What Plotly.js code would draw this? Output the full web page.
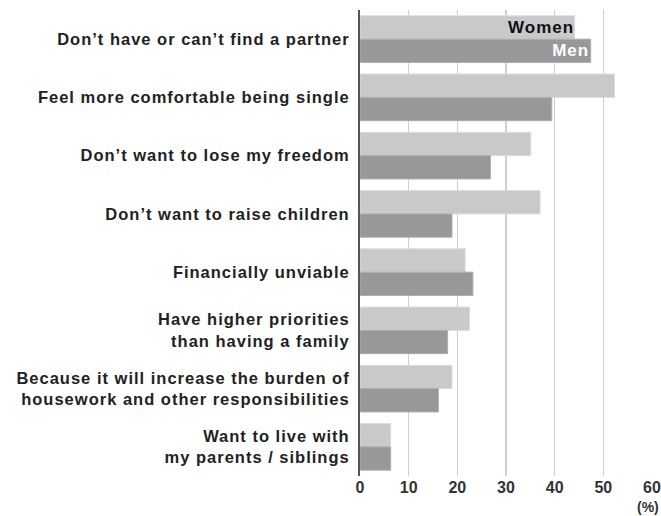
<!DOCTYPE html>
<html>
<head>
<meta charset="utf-8">
<script src="https://cdn.plot.ly/plotly-3.0.1.min.js"></script>
<style>
html,body{margin:0;padding:0;background:#fff;}
#chart{width:661px;height:516px;}
#chart .ytick text{letter-spacing:1px;}
#chart .bartext{letter-spacing:1px;}
</style>
</head>
<body>
<div id="chart"></div>
<script>
const categories = [
  "Don’t have or can’t find a partner",
  "Feel more comfortable being single",
  "Don’t want to lose my freedom",
  "Don’t want to raise children",
  "Financially unviable",
  "Have higher priorities<br>than having a family",
  "Because it will increase the burden of<br>housework and other responsibilities",
  "Want to live with<br>my parents / siblings"
];
const women = [44.1, 52.3, 35.1, 37.0, 21.6, 22.5, 18.9, 6.3];
const men   = [47.4, 39.4, 26.8, 18.9, 23.2, 18.0, 16.1, 6.3];
const womenText = ["Women", "", "", "", "", "", "", ""];
const menText   = ["Men", "", "", "", "", "", "", ""];
const xTicks = [0, 10, 20, 30, 40, 50, 60];
const catIds = categories.map((c, i) => i);

const FAM = "Liberation Sans, Arial, Helvetica, sans-serif";
const labelFont = {family: FAM, size: 16.5, color: "#222", weight: 700};

const traces = [
  {
    type: "bar", orientation: "h", name: "Women",
    y: catIds, x: women, text: womenText,
    textposition: "inside", insidetextanchor: "end", constraintext: "none",
    textfont: {family: FAM, size: 17, color: "#111", weight: 700},
    marker: {color: "#c9c9cb", line: {color: "#dcdcdd", width: 1}},
    hoverinfo: "none"
  },
  {
    type: "bar", orientation: "h", name: "Men",
    y: catIds, x: men, text: menText,
    textposition: "inside", insidetextanchor: "end", constraintext: "none",
    textfont: {family: FAM, size: 17, color: "#ffffff", weight: 700},
    marker: {color: "#98989b", line: {color: "#acacae", width: 1}},
    hoverinfo: "none"
  }
];

const layout = {
  width: 661, height: 516,
  margin: {l: 360, r: 9, t: 10, b: 40, pad: 0},
  paper_bgcolor: "#ffffff", plot_bgcolor: "#ffffff",
  barmode: "group", bargap: 0.2, bargroupgap: 0,
  showlegend: false,
  xaxis: {
    range: [0, 60], tickvals: xTicks, ticktext: xTicks.map(String),
    showgrid: true, gridcolor: "#cfcfcf", gridwidth: 1.5,
    zeroline: false, showline: false, ticks: "",
    ticklabeloverflow: "allow",
    tickfont: {family: FAM, size: 16, color: "#333", weight: 700},
    fixedrange: true
  },
  yaxis: {
    type: "linear", autorange: false, range: [7.5, -0.5],
    tickvals: catIds, ticktext: categories,
    showgrid: false, zeroline: false,
    showline: true, linecolor: "#555", linewidth: 2,
    ticks: "", ticklabelstandoff: 5,
    tickfont: labelFont, fixedrange: true
  },
  annotations: [
    {text: "(%)", xref: "paper", yref: "paper", x: 1, y: 0, xanchor: "right", yanchor: "top",
     xshift: 9, yshift: -21, showarrow: false,
     font: {family: FAM, size: 14, color: "#333", weight: 700}}
  ]
};

Plotly.newPlot("chart", traces, layout, {displayModeBar: false, staticPlot: true});
</script>
</body>
</html>
